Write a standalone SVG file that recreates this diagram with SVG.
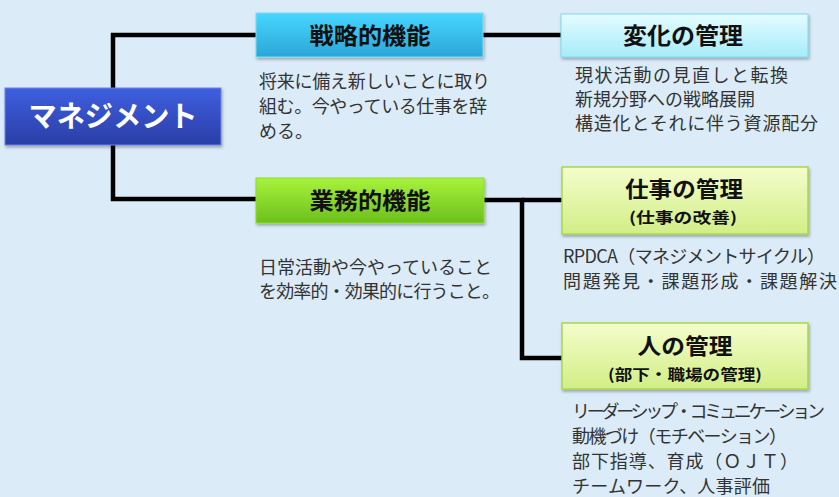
<svg xmlns="http://www.w3.org/2000/svg" width="839" height="497" viewBox="0 0 839 497">
<defs>
<linearGradient id="gBlue" x1="0" y1="0" x2="0" y2="1"><stop offset="0" stop-color="#3f5fe0"/><stop offset="1" stop-color="#2a3ea6"/></linearGradient>
<linearGradient id="gCyan" x1="0" y1="0" x2="0" y2="1"><stop offset="0" stop-color="#48d6ff"/><stop offset="1" stop-color="#2aa6d6"/></linearGradient>
<linearGradient id="gLCyan" x1="0" y1="0" x2="0" y2="1"><stop offset="0" stop-color="#e4fcff"/><stop offset="1" stop-color="#a6ecfa"/></linearGradient>
<linearGradient id="gGreen" x1="0" y1="0" x2="0" y2="1"><stop offset="0" stop-color="#a8f23c"/><stop offset="1" stop-color="#6cc01c"/></linearGradient>
<linearGradient id="gLGreen" x1="0" y1="0" x2="0" y2="1"><stop offset="0" stop-color="#f4fdcc"/><stop offset="1" stop-color="#d2ee86"/></linearGradient>
<filter id="sh" x="-10%" y="-20%" width="120%" height="150%"><feDropShadow dx="1" dy="2" stdDeviation="1.5" flood-color="#000" flood-opacity="0.3"/></filter>
</defs>
<style>
.h{font-family:"Noto Sans CJK JP","Noto Sans",sans-serif;font-weight:bold;fill:#111;text-anchor:middle}
.t{font-family:"Noto Sans CJK JP","Noto Sans",sans-serif;fill:#333;font-size:18px}
.ln{stroke:#000;stroke-width:4.5;fill:none}
</style>
<rect width="839" height="497" fill="#dbebf8"/>
<g id="connectors">
<polyline class="ln" points="256,35 113,35 113,199 256,199"/>
<line class="ln" x1="483" y1="35" x2="561" y2="35"/>
<polyline class="ln" points="484,200 522,200 522,358 562,358"/>
<line class="ln" x1="522" y1="200" x2="562" y2="200"/>
</g>
<g id="management">
<rect x="5" y="88" width="216" height="57" fill="url(#gBlue)" stroke="#6c84e8" stroke-width="1" filter="url(#sh)"/>
<text x="113" y="127" class="h" style="fill:#fff;font-size:29px" textLength="169" lengthAdjust="spacingAndGlyphs">マネジメント</text>
</g>
<g id="strategic">
<rect x="256" y="13" width="227" height="44" fill="url(#gCyan)" stroke="#7adcf5" stroke-width="1" filter="url(#sh)"/>
<text x="370" y="44" class="h" style="font-size:23px" textLength="121" lengthAdjust="spacingAndGlyphs">戦略的機能</text>
<text class="t"><tspan x="259" y="88" textLength="231">将来に備え新しいことに取り</tspan><tspan x="259" y="113" textLength="228">組む。今やっている仕事を辞</tspan><tspan x="259" y="138">める。</tspan></text>
</g>
<g id="change">
<rect x="561" y="14" width="247" height="43" fill="url(#gLCyan)" stroke="#7fd8ec" stroke-width="1" filter="url(#sh)"/>
<text x="683" y="44" class="h" style="font-size:23px" textLength="120" lengthAdjust="spacingAndGlyphs">変化の管理</text>
<text class="t"><tspan x="575" y="82" textLength="213">現状活動の見直しと転換</tspan><tspan x="575" y="106">新規分野への戦略展開</tspan><tspan x="575" y="130" textLength="243">構造化とそれに伴う資源配分</tspan></text>
</g>
<g id="business">
<rect x="256" y="178" width="228" height="45" fill="url(#gGreen)" stroke="#8edc2c" stroke-width="1" filter="url(#sh)"/>
<text x="370" y="209" class="h" style="font-size:23px" textLength="121" lengthAdjust="spacingAndGlyphs">業務的機能</text>
<text class="t"><tspan x="259" y="274" textLength="233">日常活動や今やっていること</tspan><tspan x="259" y="298" textLength="241">を効率的・効果的に行うこと。</tspan></text>
</g>
<g id="work">
<rect x="562" y="167" width="246" height="67" fill="url(#gLGreen)" stroke="#a6d84e" stroke-width="1.5" filter="url(#sh)"/>
<text x="684" y="197" class="h" style="font-size:22px" textLength="118" lengthAdjust="spacingAndGlyphs">仕事の管理</text>
<text x="683" y="223" class="h" style="font-size:15px" textLength="108" lengthAdjust="spacingAndGlyphs">(仕事の改善)</text>
<text class="t"><tspan x="563" y="263" textLength="262">RPDCA（マネジメントサイクル）</tspan><tspan x="563" y="288" textLength="274">問題発見・課題形成・課題解決</tspan></text>
</g>
<g id="people">
<rect x="562" y="323" width="246" height="66" fill="url(#gLGreen)" stroke="#a6d84e" stroke-width="1.5" filter="url(#sh)"/>
<text x="685" y="354" class="h" style="font-size:22px" textLength="95" lengthAdjust="spacingAndGlyphs">人の管理</text>
<text x="685" y="380" class="h" style="font-size:15px" textLength="154" lengthAdjust="spacingAndGlyphs">(部下・職場の管理)</text>
<text class="t"><tspan x="572" y="418" textLength="253">リーダーシップ・コミュニケーション</tspan><tspan x="572" y="443" textLength="215">動機づけ（モチベーション）</tspan><tspan x="572" y="468" textLength="226">部下指導、育成（ＯＪＴ）</tspan><tspan x="572" y="493" textLength="198">チームワーク、人事評価</tspan></text>
</g>
</svg>
